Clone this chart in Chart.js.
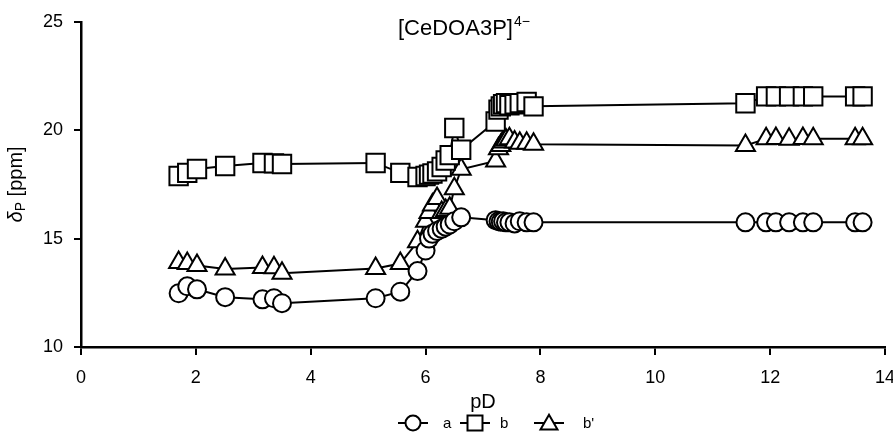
<!DOCTYPE html>
<html>
<head>
<meta charset="utf-8">
<title>[CeDOA3P]4− chemical shift vs pD</title>
<script src="https://cdn.jsdelivr.net/npm/chart.js@4.4.1/dist/chart.umd.min.js"></script>
<style>
    html, body { margin: 0; padding: 0; background: #fff; overflow: hidden; }
    /* canvas is a little wider than the frame so the "14" label runs off the edge */
    #wrap { width: 893px; height: 448px; overflow: hidden; }
</style>
</head>
<body>
<div id="wrap"><canvas id="shiftChart" width="900" height="448"></canvas></div>
<script>
// pD values of the titration (shared by all three signals)
const pD = [
    1.70, 1.85, 2.02, 2.51, 3.16, 3.36, 3.50,
    5.13, 5.56, 5.86,
    6.00, 6.06, 6.12, 6.20, 6.28, 6.35, 6.42, 6.50, 6.62,
    7.22, 7.27, 7.31, 7.35, 7.40, 7.46, 7.55, 7.64, 7.76, 7.88,
    11.57, 11.93, 12.10, 12.33, 12.57, 12.75,
    13.48, 13.61
];

// 31P shifts in ppm
const deltaA = [
    12.48, 12.80, 12.66, 12.30, 12.20, 12.25, 12.02,
    12.25, 12.55, 13.50,
    14.45, 15.00, 15.22, 15.35, 15.45, 15.55, 15.65, 15.80, 15.98,
    15.85, 15.80, 15.78, 15.80, 15.75, 15.75, 15.70, 15.80, 15.75, 15.75,
    15.75, 15.75, 15.75, 15.75, 15.75, 15.75,
    15.75, 15.75
];
const deltaB = [
    17.89, 18.03, 18.21, 18.35, 18.49, 18.47, 18.44,
    18.49, 18.03, 17.84,
    17.89, 17.95, 18.00, 18.10, 18.30, 18.60, 18.85, 20.10, 19.10,
    20.40, 20.95, 21.10, 21.20, 21.25, 21.15, 21.20, 21.25, 21.30, 21.10,
    21.24, 21.56, 21.56, 21.56, 21.56, 21.56,
    21.56, 21.56
];
const deltaB2 = [
    13.90, 13.85, 13.76, 13.60, 13.67, 13.65, 13.40,
    13.62, 13.85, 14.85,
    15.80, 16.20, 16.55, 16.85, 16.20, 16.30, 16.40, 17.30, 18.20,
    18.58, 19.15, 19.30, 19.45, 19.55, 19.60, 19.45, 19.40, 19.40, 19.35,
    19.30, 19.60, 19.62, 19.58, 19.62, 19.60,
    19.60, 19.60
];

const seriesNames = ["a", "b", "b'"];
const seriesValues = [deltaA, deltaB, deltaB2];
const markerStyles = ["circle", "rect", "triangle"];
const markerRadius = [9, 13, 11];      // on the plot
const legendRadius = [7.5, 10.6, 9.8]; // in the key

const FONT = '"Liberation Sans", Arial, sans-serif';
const INK = '#000';

// Chart title, y axis label and the key are drawn by hand (sub/superscripts)
const annotations = {
    id: 'annotations',
    afterDraw(chart) {
        const ctx = chart.ctx;
        const area = chart.chartArea;
        ctx.save();
        ctx.fillStyle = INK;

        // title with charge superscript
        ctx.textAlign = 'left';
        ctx.textBaseline = 'alphabetic';
        ctx.font = '22px ' + FONT;
        const main = '[CeDOA3P]';
        const tx = 398;
        const mainW = ctx.measureText(main).width;
        ctx.fillText(main, tx, 35);
        ctx.font = '14px ' + FONT;
        ctx.fillText('4\u2212', tx + mainW + 1, 26);

        // rotated y label: italic delta, subscript P, unit
        ctx.save();
        ctx.translate(16, (area.top + area.bottom) / 2);
        ctx.rotate(-Math.PI / 2);
        ctx.textBaseline = 'middle';
        const parts = [
            { t: '\u03b4', f: 'italic 20px ' + FONT, dy: 0 },
            { t: 'P', f: '14px ' + FONT, dy: 5 },
            { t: ' [ppm]', f: '20px ' + FONT, dy: 0 }
        ];
        let total = 0;
        parts.forEach(p => { ctx.font = p.f; p.w = ctx.measureText(p.t).width; total += p.w; });
        let px = -total / 2;
        parts.forEach(p => { ctx.font = p.f; ctx.fillText(p.t, px, p.dy); px += p.w; });
        ctx.restore();

        // key: line through marker, then the series name
        const keyY = 423;
        const keySymbolX = [413, 475, 549];
        const keyTextX = [443, 500, 583];
        ctx.font = '15px ' + FONT;
        ctx.textBaseline = 'middle';
        seriesNames.forEach((name, i) => {
            const cx = keySymbolX[i];
            ctx.strokeStyle = INK;
            ctx.lineWidth = 2;
            ctx.beginPath();
            ctx.moveTo(cx - 15, keyY);
            ctx.lineTo(cx + 15, keyY);
            ctx.stroke();
            ctx.fillStyle = '#fff';
            const my = markerStyles[i] === 'triangle' ? keyY + 1.5 : keyY;
            Chart.helpers.drawPoint(ctx, {
                pointStyle: markerStyles[i], radius: legendRadius[i], rotation: 0, borderWidth: 2
            }, cx, my);
            ctx.fillStyle = INK;
            ctx.fillText(name, keyTextX[i], keyY + 1);
        });
        ctx.restore();
    }
};

const datasets = seriesNames.map((name, i) => ({
    label: name,
    data: pD.map((x, j) => ({ x: x, y: seriesValues[i][j] })),
    showLine: true,
    borderColor: INK,
    borderWidth: 2,
    tension: 0,
    pointStyle: markerStyles[i],
    pointRadius: markerRadius[i],
    pointBackgroundColor: '#fff',
    pointBorderColor: INK,
    pointBorderWidth: 2,
    clip: false
}));

new Chart(document.getElementById('shiftChart'), {
    type: 'scatter',
    data: { datasets: datasets },
    options: {
        responsive: false,
        animation: false,
        devicePixelRatio: 1,
        layout: { padding: { top: 18, right: 2, left: 0, bottom: 0 } },
        plugins: {
            legend: { display: false },
            tooltip: { enabled: false }
        },
        scales: {
            x: {
                type: 'linear',
                min: 0,
                max: 14,
                ticks: { stepSize: 2, color: INK, font: { size: 18, family: FONT }, padding: 12, maxRotation: 0 },
                grid: { drawOnChartArea: false, drawTicks: true, tickLength: 8, color: INK, lineWidth: 2 },
                border: { color: INK, width: 2.5 },
                title: { display: true, text: 'pD', color: INK, font: { size: 20, family: FONT }, padding: { top: 0, bottom: 34 } },
                afterFit: s => { s.height = 101; s.paddingRight = 0; }
            },
            y: {
                min: 10,
                max: 25,
                ticks: { stepSize: 5, color: INK, font: { size: 18, family: FONT }, padding: 11 },
                grid: { drawOnChartArea: false, drawTicks: true, tickLength: 7, color: INK, lineWidth: 2 },
                border: { color: INK, width: 2.5 },
                afterFit: s => { s.width = 81; }
            }
        }
    },
    plugins: [annotations]
});
</script>
</body>
</html>
